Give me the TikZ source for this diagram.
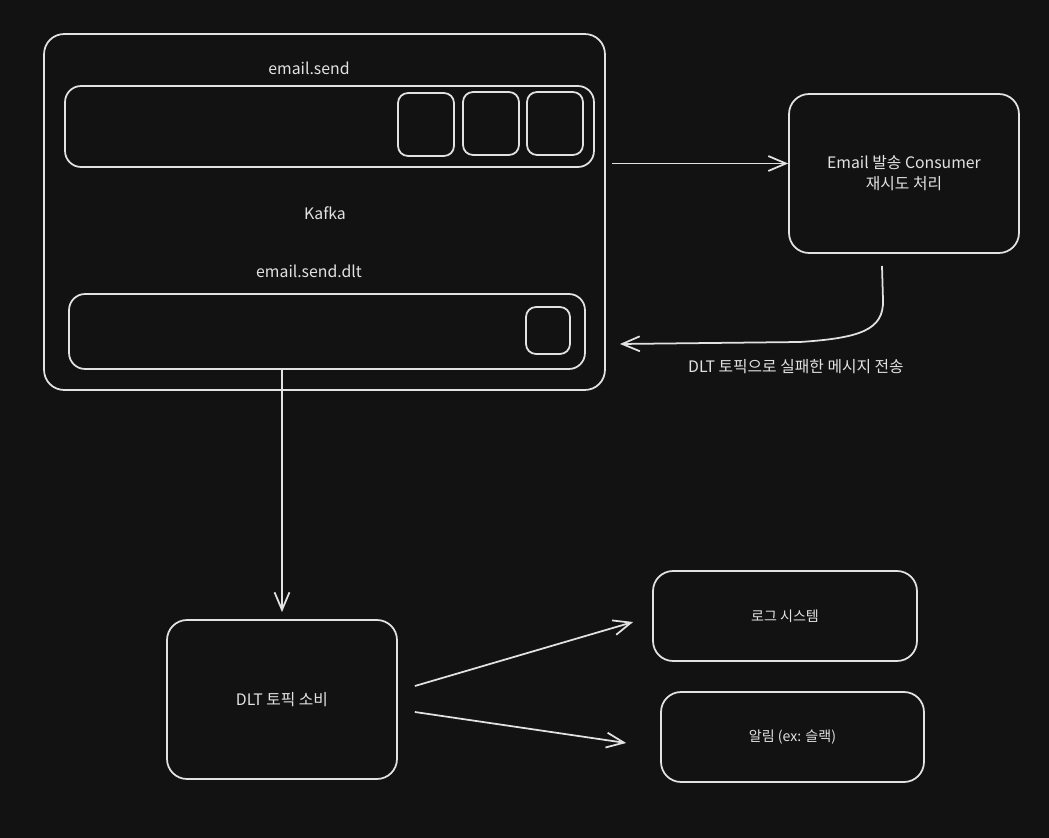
\documentclass[tikz,border=0pt]{standalone}
\usepackage{fontspec}
\setmainfont{Noto Sans CJK KR}
\usetikzlibrary{arrows.meta,positioning}
\definecolor{bg}{HTML}{121212}
\definecolor{ink}{HTML}{E2E2E2}
\tikzset{
  box/.style={draw=ink, line width=1pt, rounded corners=0.4cm, inner sep=0pt, align=center},
  slot/.style={draw=ink, line width=1pt, rounded corners=0.2cm, inner sep=0pt},
  lbl/.style={text=ink, font=\fontsize{9}{12}\selectfont},
  small/.style={text=ink, font=\fontsize{8}{10}\selectfont},
  arr/.style={draw=ink, line width=1pt, -{Straight Barb[length=10pt,width=8.5pt]}}
}
\begin{document}
\begin{tikzpicture}[x=0.02cm, y=-0.02cm]
\fill[bg] (0,0) rectangle (1049,838);
\useasboundingbox (0,0) rectangle (1049,838);
% kafka with its two topics
\node[box, minimum width=11.22cm, minimum height=7.12cm] (kafka) at (324.5,212) {};
\node[lbl] (kafkalbl) at (325,213) {Kafka};
\node[lbl] (sendlbl) at (309,68) {email.send};
\node[box, rounded corners=0.32cm, minimum width=10.58cm, minimum height=1.62cm] (send) at (329.5,126.5) {};
\node[slot, minimum width=1.12cm, minimum height=1.26cm] (msg1) at (426,124.5) {};
\node[slot, minimum width=1.12cm, minimum height=1.26cm] (msg2) at (491,123.5) {};
\node[slot, minimum width=1.12cm, minimum height=1.26cm] (msg3) at (555,123.5) {};
\node[lbl] (dltlbl) at (309,271) {email.send.dlt};
\node[box, rounded corners=0.32cm, minimum width=10.32cm, minimum height=1.5cm] (dlt) at (327,331.5) {};
\node[slot, minimum width=0.88cm, minimum height=0.94cm] (dltmsg) at (548,330.5) {};
% consumers
\node[box, lbl, minimum width=4.6cm, minimum height=3.18cm] (consumer) at (904,173.5) {Email 발송 Consumer\\재시도 처리};
\node[box, lbl, minimum width=4.6cm, minimum height=3.18cm] (dltuse) at (282,699.5) {DLT 토픽 소비};
\node[box, small, minimum width=5.28cm, minimum height=1.8cm] (log) at (785,616) {로그 시스템};
\node[box, small, minimum width=5.26cm, minimum height=1.8cm] (alert) at (792.5,737) {알림 (ex: 슬랙)};
% retry goes back to the dlt topic
\coordinate (failout) at (882,266);
\coordinate (failin) at (620,344);
\node[lbl] (faillbl) at (796,367) {DLT 토픽으로 실패한 메시지 전송};
% arrows
\draw[arr, shorten <=3.4pt] ([yshift=0.2cm]kafka.east |- consumer.west) -- ([yshift=0.2cm]consumer.west);
\draw[arr] (failout) -- (883,300) .. controls (884,330) and (860,338) .. (800,342) -- (failin);
\draw[arr, shorten >=4pt] (dltuse.north |- dlt.south) -- (dltuse.north);
\draw[arr] ([shift={(17,-13.5)}]dltuse.east) -- ([shift={(-19,6)}]log.west);
\draw[arr] ([shift={(17,12.5)}]dltuse.east) -- ([shift={(-34,6)}]alert.west);
\end{tikzpicture}
\end{document}
